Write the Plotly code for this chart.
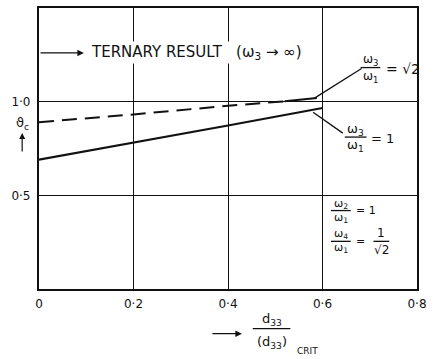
import plotly.graph_objects as go

# Critical value against reduced d33 for two ω3/ω1 ratios
ratio = [0.0, 0.2, 0.4, 0.6]
theta_equal = [0.69, 0.78, 0.873, 0.966]          # ω3/ω1 = 1
ratio_root2_dashed = [0.0, 0.2, 0.4, 0.52]
theta_root2_dashed = [0.89, 0.932, 0.978, 1.002]  # ω3/ω1 = √2
ratio_root2_solid = [0.52, 0.588]
theta_root2_solid = [1.002, 1.019]
ternary_level = 1.26                              # ternary result (ω3 → ∞)

x_ticks = [0, 0.2, 0.4, 0.6, 0.8]
x_tick_text = ["0", "0·2", "0·4", "0·6", "0·8"]
y_ticks = [0.5, 1.0]
y_tick_text = ["0·5", "1·0"]

W, H = 433, 359
L, R, T, B = 39, 12, 6, 70
PW, PH = W - L - R, H - T - B
FONT = "DejaVu Sans"
INK = "#111111"


def px(x):
    return (x - L) / PW


def py(y):
    return (H - B - y) / PH


fig = go.Figure()

fig.add_trace(go.Scatter(x=ratio, y=theta_equal, mode="lines",
                         line=dict(color=INK, width=2.2), hoverinfo="skip"))
fig.add_trace(go.Scatter(x=ratio_root2_dashed, y=theta_root2_dashed, mode="lines",
                         line=dict(color=INK, width=2, dash="15px,8px"), hoverinfo="skip"))
fig.add_trace(go.Scatter(x=ratio_root2_solid, y=theta_root2_solid, mode="lines",
                         line=dict(color=INK, width=2), hoverinfo="skip"))

annotations = []
shapes = []


def text(x, y, s, size=12, xanchor="center", yanchor="middle", bg=None):
    a = dict(xref="paper", yref="paper", x=px(x), y=py(y), text=s, showarrow=False,
             xanchor=xanchor, yanchor=yanchor, font=dict(family=FONT, size=size, color=INK))
    if bg:
        a["bgcolor"] = bg
    annotations.append(a)


def seg(x0, y0, x1, y1, width=1.3):
    shapes.append(dict(type="line", xref="paper", yref="paper",
                       x0=px(x0), y0=py(y0), x1=px(x1), y1=py(y1),
                       line=dict(color=INK, width=width)))


def frac(cx, y_num, y_bar, y_den, num, den, half, size=12):
    text(cx, y_num, num, size)
    text(cx, y_den, den, size)
    seg(cx - half, y_bar, cx + half, y_bar, 1.3)


# Ternary result arrow and caption
annotations.append(dict(xref="x", yref="y", axref="x", ayref="y",
                        x=0.095, y=ternary_level, ax=0.0, ay=ternary_level,
                        text="", showarrow=True, arrowhead=2, arrowsize=1,
                        arrowwidth=1.3, arrowcolor=INK, standoff=0))
annotations.append(dict(xref="x", yref="y", x=0.106, y=ternary_level,
                        text="TERNARY RESULT   (ω<sub>3</sub> → ∞)", showarrow=False,
                        xanchor="left", yanchor="middle", bgcolor="white",
                        font=dict(family=FONT, size=15, color=INK)))

# ω3/ω1 = √2 label
seg(317, 97, 365, 67)
frac(374, 58, 66, 75, "ω<sub>3</sub>", "ω<sub>1</sub>", 10)
text(388, 67, "= √2", 14, xanchor="left")

# ω3/ω1 = 1 label
seg(316, 111, 346, 132)
frac(359, 128, 136, 144, "ω<sub>3</sub>", "ω<sub>1</sub>", 11, 13)
text(372, 137, "= 1", 13, xanchor="left")

# ω2/ω1 = 1 and ω4/ω1 = 1/√2
frac(344, 203, 210, 217, "ω<sub>2</sub>", "ω<sub>1</sub>", 10, 11)
text(357, 210, "= 1", 11, xanchor="left")
frac(344, 234, 241, 248, "ω<sub>4</sub>", "ω<sub>1</sub>", 10, 11)
text(357, 241, "=", 11, xanchor="left")
frac(385, 233, 241, 250, "1", "√2", 8, 12)

# y-axis symbol with arrow
text(22, 122, "ϑ<sub>c</sub>", 13)
annotations.append(dict(xref="paper", yref="paper", axref="pixel", ayref="pixel",
                        x=px(22), y=py(132), ax=0, ay=20, text="", showarrow=True,
                        arrowhead=2, arrowwidth=1.2, arrowcolor=INK, standoff=0))

# x-axis title
annotations.append(dict(xref="paper", yref="paper", axref="pixel", ayref="pixel",
                        x=px(244), y=py(334), ax=-31, ay=0, text="", showarrow=True,
                        arrowhead=2, arrowwidth=1.3, arrowcolor=INK, standoff=0))
frac(274, 320, 329, 343, "d<sub>33</sub>", "(d<sub>33</sub>)", 19, 13)
text(298, 351, "CRIT", 9, xanchor="left")

fig.update_layout(
    width=W, height=H,
    margin=dict(l=L, r=R, t=T, b=B),
    paper_bgcolor="white", plot_bgcolor="white",
    showlegend=False,
    annotations=annotations, shapes=shapes,
    font=dict(family=FONT, size=12, color=INK),
)
fig.update_xaxes(range=[0, 0.8], tickvals=x_ticks, ticktext=x_tick_text,
                 showgrid=True, gridcolor=INK, gridwidth=1.2, zeroline=False,
                 showline=True, linecolor=INK, linewidth=2.2, mirror=True,
                 ticks="", ticklabelstandoff=2,
                 tickfont=dict(family=FONT, size=12, color=INK))
fig.update_yaxes(range=[0, 1.5], tickvals=y_ticks, ticktext=y_tick_text,
                 showgrid=True, gridcolor=INK, gridwidth=1.2, zeroline=False,
                 showline=True, linecolor=INK, linewidth=2.2, mirror=True,
                 ticks="", ticklabelstandoff=4,
                 tickfont=dict(family=FONT, size=12, color=INK))

fig.write_html("out.html")
